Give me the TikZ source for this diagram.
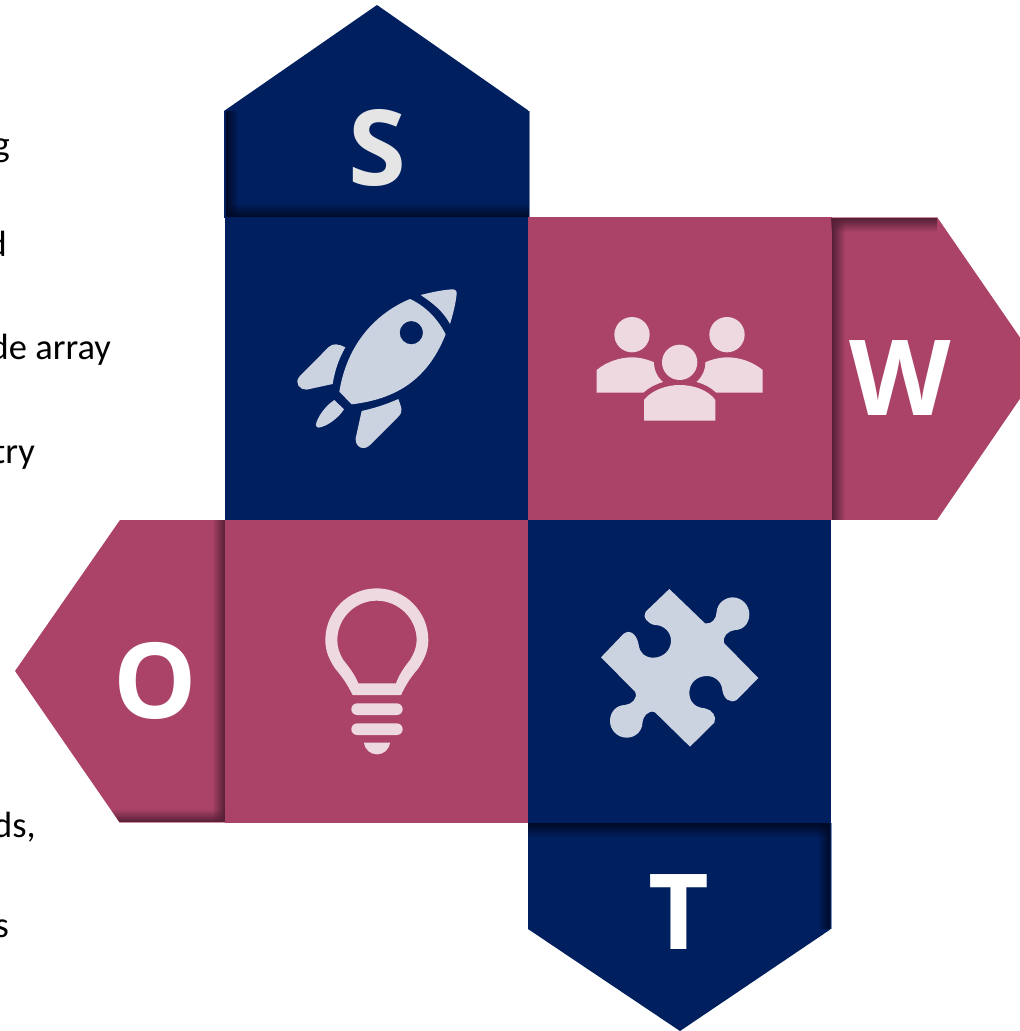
\documentclass[tikz,border=0pt]{standalone}
\usepackage{fontspec}
\usetikzlibrary{fadings}
\setmainfont{Carlito}
\newfontfamily\capfont{Open Sans}
\definecolor{navy}{HTML}{001F5F}
\definecolor{navyd}{HTML}{000A26}
\definecolor{rose}{HTML}{AB4368}
\definecolor{rosed}{HTML}{552036}
\definecolor{navyl}{HTML}{CBD2E0}
\definecolor{rosel}{HTML}{EED9E1}
\tikzfading[name=fromleft,left color=transparent!0,right color=transparent!100]
\tikzfading[name=fromright,left color=transparent!100,right color=transparent!0]
\tikzfading[name=fromtop,top color=transparent!0,bottom color=transparent!100]
\tikzfading[name=frombottom,top color=transparent!100,bottom color=transparent!0]
\tikzset{
  frag/.style={anchor=base east,inner sep=0pt,text=black,font=\fontsize{36.5}{36.5}\selectfont},
  capl/.style={inner sep=0pt,text=white,font=\capfont\bfseries\fontsize{105}{105}\selectfont},
  edgeline/.style={line width=1pt},
}
\begin{document}
\begin{tikzpicture}[x=1pt,y=-1pt]
\useasboundingbox (0,0) rectangle (1020,1031);
% clipped text
\node[frag] (t1) at (10,156) {g};
\node[frag] (t2) at (7,256) {d};
\node[frag] (t3) at (111,359) {de array};
\node[frag] (t4) at (35,463) {try};
\node[frag] (t5) at (36,837) {ds,};
\node[frag] (t6) at (9,937) {s};
% S tab
\begin{scope}
\clip (224,111) -- (377,5) -- (529,111) -- (529,218) -- (224,218) -- cycle;
\fill[navy] (224,0) rectangle (529,218);
\fill[navyd,path fading=frombottom] (226,203) rectangle (529,217);
\fill[navyd,path fading=fromleft] (226,111) rectangle (238,217);
\end{scope}
\draw[edgeline,navy!55!white] (529,111) -- (529,217);
% W tab
\begin{scope}
\clip (831,217) -- (937,217) -- (1041,368) -- (937,520) -- (831,520) -- cycle;
\fill[rose] (831,217) rectangle (1041,520);
\fill[rosed,path fading=fromtop] (831,218) rectangle (937,232);
\fill[rosed,path fading=fromleft] (832,218) rectangle (845,520);
\end{scope}
\draw[edgeline,rose!60!white] (832,217) -- (937,217);
% O tab
\begin{scope}
\clip (120,520) -- (225,520) -- (225,823) -- (120,823) -- (15,671) -- cycle;
\fill[rose] (15,520) rectangle (225,823);
\fill[rosed,path fading=frombottom] (100,809) rectangle (225,822);
\fill[rosed,path fading=fromright] (212,520) rectangle (225,822);
\end{scope}
\draw[edgeline,rose!60!white] (120,822.5) -- (225,822.5);
% T tab
\begin{scope}
\clip (528,823) -- (831,823) -- (831,929) -- (680,1031) -- (528,929) -- cycle;
\fill[navy] (528,823) rectangle (831,1031);
\fill[navyd,path fading=fromtop] (528,823) rectangle (830,837);
\fill[navyd,path fading=fromright] (818,823) rectangle (830,929);
\end{scope}
\draw[edgeline,navy!50!white] (831,823) -- (831,929);
% squares
\fill[navy] (225,217) rectangle (528,520);
\fill[rose] (528,217) rectangle (831,520);
\fill[rose] (225,520) rectangle (528,823);
\fill[navy] (528,520) rectangle (831,823);
% letters
\node[capl,text=black!10] (ls) at (377,148) {S};
\node[capl] (lw) at (900,378) {W};
\node[capl] (lo) at (155,681) {O};
\node[capl] (lt) at (679,912.5) {T};
% rocket
\begin{scope}[shift={(270,270)},scale=1/3]
\fill[navyl,even odd rule] (420,87) .. controls (340,120) and (235,200) .. (208,365) -- (245,403) .. controls (400,385) and (480,310) .. (527,193) .. controls (505,150) and (470,110) .. (420,87) -- cycle
  (424,153) .. controls (405,153) and (389,169) .. (389,188) .. controls (389,207) and (405,223) .. (424,223) .. controls (443,223) and (459,207) .. (459,188) .. controls (459,169) and (443,153) .. (424,153) -- cycle;
\fill[navyl] (452,75) .. controls (480,68) and (515,60) .. (545,58) .. controls (555,57) and (561,62) .. (560,72) .. controls (557,100) and (550,130) .. (540,162) .. controls (520,125) and (490,100) .. (452,75) -- cycle;
\fill[navyl] (226,232) .. controls (205,270) and (195,300) .. (188,342) -- (110,359) .. controls (90,360) and (72,340) .. (88,320) -- (175,232) .. controls (190,218) and (205,222) .. (226,232) -- cycle;
\fill[navyl] (385,387) .. controls (345,405) and (310,415) .. (275,423) -- (257,505) .. controls (255,530) and (280,545) .. (300,525) -- (385,440) .. controls (400,425) and (395,415) .. (385,387) -- cycle;
\fill[navyl] (193,390) -- (222,418) .. controls (205,445) and (170,470) .. (145,473) .. controls (135,470) and (137,460) .. (140,455) .. controls (150,430) and (170,405) .. (193,390) -- cycle;
\end{scope}
% people
\begin{scope}[shift={(580,300)},scale=1/3]
\fill[rosel] (156,104) circle[radius=53];
\fill[rosel] (441,104) circle[radius=53];
\fill[rosel] (50,278) -- (50,210) .. controls (80,185) and (120,172) .. (156,172) .. controls (190,172) and (220,185) .. (240,195) -- (270,278) -- cycle;
\fill[rosel] (548,278) -- (548,210) .. controls (518,185) and (478,172) .. (442,172) .. controls (408,172) and (378,185) .. (358,195) -- (328,278) -- cycle;
\fill[rose] (299,187) circle[radius=77];
\filldraw[draw=rose,fill=rose,line width=10.5pt] (192,362) -- (192,300) .. controls (215,270) and (260,255) .. (299,255) .. controls (340,255) and (385,270) .. (406,300) -- (406,362) -- cycle;
\fill[rosel] (299,187) circle[radius=53];
\fill[rosel] (192,362) -- (192,300) .. controls (215,270) and (260,255) .. (299,255) .. controls (340,255) and (385,270) .. (406,300) -- (406,362) -- cycle;
\end{scope}
% bulb
\begin{scope}[shift={(300,570)},scale=1/3]
\fill[rosel,even odd rule] (158,375) .. controls (140,340) and (130,325) .. (105,295) .. controls (85,265) and (76,240) .. (76,210) .. controls (76,125) and (145,55) .. (230,55) .. controls (315,55) and (385,125) .. (385,210) .. controls (385,240) and (375,265) .. (355,295) .. controls (330,325) and (320,340) .. (303,375) -- cycle
 (175,340) .. controls (165,315) and (150,295) .. (130,270) .. controls (118,250) and (112,232) .. (112,210) .. controls (112,145) and (165,92) .. (230,92) .. controls (295,92) and (350,145) .. (350,210) .. controls (350,232) and (342,250) .. (330,270) .. controls (310,295) and (297,315) .. (288,340) -- cycle;
\fill[rosel,rounded corners=5.8pt] (154,400) rectangle (308,435);
\fill[rosel,rounded corners=5.8pt] (154,460) rectangle (308,495);
\fill[rosel] (192,518) .. controls (195,540) and (212,553) .. (231,553) .. controls (250,553) and (267,540) .. (270,518) -- cycle;
\end{scope}
% puzzle
\begin{scope}[shift={(580,570)},scale=1/3]
\fill[navyl] (268,57) -- (375,160) .. controls (395,165) and (410,145) .. (410,125) .. controls (412,100) and (435,82) .. (458,82) .. controls (485,82) and (508,105) .. (508,133) .. controls (508,160) and (490,180) .. (465,180) .. controls (445,182) and (425,200) .. (433,220) -- (535,324) -- (470,390) .. controls (450,402) and (430,385) .. (427,360) .. controls (425,335) and (405,318) .. (380,318) .. controls (350,318) and (328,340) .. (328,368) .. controls (328,395) and (345,413) .. (375,415) .. controls (395,418) and (412,440) .. (403,458) -- (330,530) -- (225,427) .. controls (205,418) and (188,440) .. (187,462) .. controls (185,485) and (165,503) .. (140,503) .. controls (112,503) and (90,480) .. (90,453) .. controls (90,425) and (110,405) .. (135,405) .. controls (155,403) and (175,385) .. (165,365) -- (63,262) -- (130,192) .. controls (150,175) and (172,195) .. (176,225) .. controls (180,250) and (195,263) .. (220,263) .. controls (250,263) and (273,240) .. (273,212) .. controls (273,185) and (250,165) .. (225,165) .. controls (205,163) and (185,140) .. (197,125) -- cycle;
\end{scope}
\end{tikzpicture}
\end{document}
